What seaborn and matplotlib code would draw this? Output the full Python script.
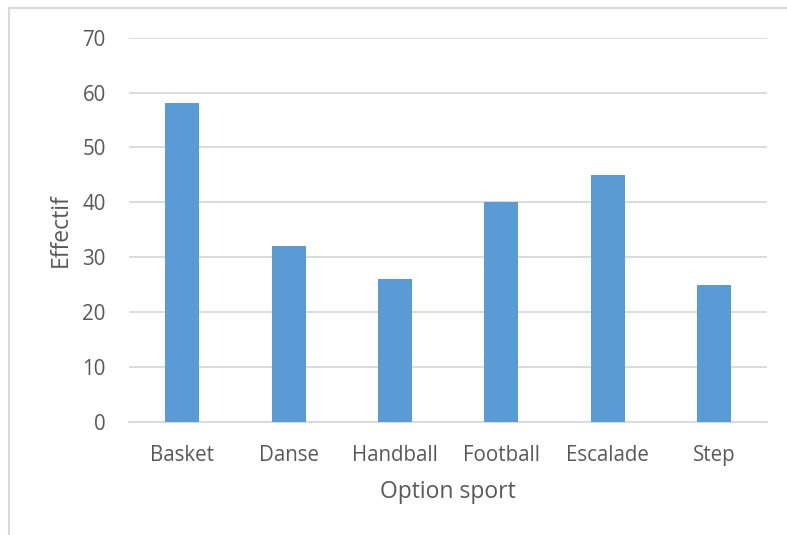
import matplotlib
matplotlib.use("Agg")
import matplotlib.pyplot as plt
import matplotlib.patches as mpatches
import seaborn as sns
import pandas as pd

categories = ["Basket", "Danse", "Handball", "Football", "Escalade", "Step"]
effectifs = [58, 32, 26, 40, 45, 25]
yticks = [0, 10, 20, 30, 40, 50, 60, 70]

sns.set_theme(style="white")
plt.rcParams['font.family'] = ['Open Sans', 'DejaVu Sans']

df = pd.DataFrame({"Option sport": categories, "Effectif": effectifs})

fig = plt.figure(figsize=(7.87, 5.35), dpi=100)
ax = fig.add_axes([0.1643, 0.2118, 0.8105, 0.7178])

sns.barplot(data=df, x="Option sport", y="Effectif", color="#5b9bd5",
            width=0.32, saturation=1, ax=ax, zorder=3, linewidth=0)

ax.set_ylim(0, 70)
ax.set_xlim(-0.5, len(categories) - 0.5)
ax.set_yticks(yticks)
ax.yaxis.grid(True, color="#d9d9d9", linewidth=1.3, zorder=0)
ax.xaxis.grid(False)
for s in ["top", "right", "left"]:
    ax.spines[s].set_visible(False)
ax.spines["bottom"].set_color("#d9d9d9")
ax.spines["bottom"].set_linewidth(1.3)
ax.tick_params(axis="both", length=0, labelsize=14.8, colors="#595959")
ax.tick_params(axis="y", pad=17)
ax.tick_params(axis="x", pad=17)
ax.set_xlabel("Option sport", fontsize=16.5, color="#595959", labelpad=10)
ax.set_ylabel("Effectif", fontsize=16.5, color="#595959", labelpad=7)

rect = mpatches.Rectangle((9 / 787, -0.05), 1.0, 1 - 8 / 535 + 0.05,
                          transform=fig.transFigure, fill=False,
                          edgecolor="#d9d9d9", linewidth=1.5, clip_on=False)
fig.patches.append(rect)

fig.savefig("out.png", dpi=100, facecolor="white")
